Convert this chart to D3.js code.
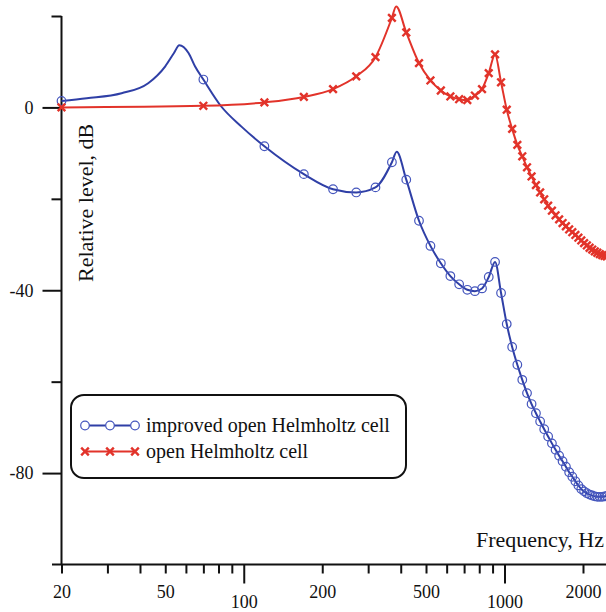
<!DOCTYPE html>
<html>
<head>
<meta charset="utf-8">
<script src="https://cdn.jsdelivr.net/npm/d3@7"></script>
<style>
  body { margin: 0; background: #fff; }
  svg text { font-family: "Liberation Serif", "Times New Roman", serif; fill: #111; }
</style>
</head>
<body>
<div class="canvas"></div>
<script>
// marker frequencies (Hz), shared by both series
const markFreq = [20, 70, 120, 170, 220, 270, 320, 370, 420, 470,
  520, 570, 620, 670, 720, 770, 820, 870, 920, 970,
  1020, 1070, 1120, 1170, 1220, 1270, 1320, 1370, 1420, 1470,
  1520, 1570, 1620, 1670, 1720, 1770, 1820, 1870, 1920, 1970,
  2020, 2070, 2120, 2170, 2220, 2270, 2320, 2370, 2420, 2470]

// improved open Helmholtz cell, dB
const blueLevel = [1.4, 6.1, -8.5, -14.6, -17.9, -18.6, -17.5, -12.0, -15.8, -24.8,
  -30.3, -34.1, -36.9, -38.7, -39.9, -40.2, -39.6, -37.1, -33.8, -40.6,
  -47.4, -52.4, -56.3, -59.6, -62.5, -64.9, -66.9, -68.7, -70.4, -72.0,
  -73.5, -74.9, -76.2, -77.4, -78.6, -79.8, -80.8, -81.8, -82.7, -83.5,
  -84.0, -84.4, -84.7, -84.9, -85.1, -85.2, -85.2, -85.2, -85.1, -85.0]
// extra curve points between markers (peaks)
const blueExtraFreq = [25, 34, 43, 50, 54, 56.6, 61.4, 65, 82, 98, 386]
const blueExtraLevel = [2.0, 3.1, 5.3, 9.0, 11.9, 13.6, 11.9, 9.0, 0.2, -4.2, -9.7]

// open Helmholtz cell, dB
const redLevel = [0, 0.35, 1.1, 2.3, 4.0, 6.8, 11.0, 19.6, 16.4, 9.7,
  5.9, 3.7, 2.4, 1.8, 1.6, 2.6, 4.0, 7.5, 11.6, 5.5,
  -0.5, -4.7, -8.2, -10.7, -13.1, -15.1, -17.0, -18.6, -20.1, -21.5,
  -22.6, -23.6, -24.5, -25.3, -26.0, -26.7, -27.3, -27.9, -28.5, -29.1,
  -29.7, -30.2, -30.7, -31.1, -31.5, -31.8, -32.1, -32.3, -32.5, -32.6]
const redExtraFreq = [384]
const redExtraLevel = [22.1]

const xTicks = [20, 30, 40, 50, 60, 70, 80, 90, 100, 200, 300, 400, 500, 600, 700, 800, 900, 1000, 2000]
const xLabels = [20, 50, 100, 200, 500, 1000, 2000]
const xMajor = [100, 1000]
const yTicks = [20, 0, -20, -40, -60, -80]
const yLabels = [0, -40, -80]

const blueLine = "#2f3fa6", blueMark = "#4556bd", redCol = "#e2332a"

const svg = d3.select(".canvas").append("svg").attr("width", 606).attr("height", 612)

const x = d3.scaleLog().domain([20, 1000]).range([61.5, 504.5])
const y = d3.scaleLinear().domain([-100, 20]).range([564.5, 16])

const merge = (fs, vs, efs, evs) => {
  const pts = fs.map((f, i) => ({f, v: vs[i], mark: true}))
  efs.forEach((f, i) => pts.push({f, v: evs[i], mark: false}))
  return pts.sort((a, b) => a.f - b.f)
}
const bluePts = merge(markFreq, blueLevel, blueExtraFreq, blueExtraLevel)
const redPts = merge(markFreq, redLevel, redExtraFreq, redExtraLevel)

// axes
const yAxis = svg.append("g").attr("transform", "translate(61.5,0)")
  .call(d3.axisLeft(y).tickValues(yTicks).tickSize(10).tickFormat(d => yLabels.includes(d) ? d : ""))
yAxis.select(".domain").remove()
yAxis.selectAll(".tick line").attr("x2", d => yLabels.includes(d) ? -19 : -10).attr("stroke", "#111").attr("stroke-width", 2)
yAxis.selectAll(".tick text").attr("x", -28).attr("font-size", 18).attr("font-family", "Liberation Serif")
yAxis.append("line").attr("y1", 16).attr("y2", 565).attr("stroke", "#111").attr("stroke-width", 2)

const xAxis = svg.append("g").attr("transform", "translate(0,564.5)")
  .call(d3.axisBottom(x).tickValues(xTicks).tickSize(9).tickFormat(d => xLabels.includes(d) ? d : ""))
xAxis.select(".domain").remove()
xAxis.selectAll(".tick line").attr("y2", d => xMajor.includes(d) ? 19 : 9).attr("stroke", "#111").attr("stroke-width", 2)
xAxis.selectAll(".tick text").attr("y", d => xMajor.includes(d) ? 31 : 21).attr("font-size", 18).attr("font-family", "Liberation Serif")
xAxis.append("line").attr("x1", 52).attr("x2", 606).attr("stroke", "#111").attr("stroke-width", 2)

svg.append("text").attr("transform", "translate(93,282) rotate(-90)")
  .attr("font-size", 22).text("Relative level, dB")
svg.append("text").attr("x", 604).attr("y", 547).attr("text-anchor", "end")
  .attr("font-size", 22).text("Frequency, Hz")

// curves
const line = d3.line().x(d => x(d.f)).y(d => y(d.v)).curve(d3.curveMonotoneX)
svg.append("path").datum(bluePts).attr("d", line).attr("fill", "none")
  .attr("stroke", blueLine).attr("stroke-width", 2)
svg.append("path").datum(redPts).attr("d", line).attr("fill", "none")
  .attr("stroke", redCol).attr("stroke-width", 2)

const cross = (g, cx, cy, s) => {
  g.append("path").attr("d", `M${cx - s},${cy - s}L${cx + s},${cy + s}M${cx - s},${cy + s}L${cx + s},${cy - s}`)
    .attr("stroke", redCol).attr("stroke-width", 2.4).attr("fill", "none")
}

svg.append("g").selectAll("circle").data(bluePts.filter(d => d.mark)).enter().append("circle")
  .attr("cx", d => x(d.f)).attr("cy", d => y(d.v)).attr("r", 4.3)
  .attr("fill", "none").attr("stroke", blueMark).attr("stroke-width", 1.2)

const redG = svg.append("g")
redPts.filter(d => d.mark).forEach(d => cross(redG, x(d.f), y(d.v), 3.8))

// legend
const lg = svg.append("g")
lg.append("rect").attr("x", 71).attr("y", 395).attr("width", 335).attr("height", 83).attr("rx", 13)
  .attr("fill", "#fff").attr("stroke", "#111").attr("stroke-width", 2)
const legendItems = [
  {name: "improved open Helmholtz cell", kind: "circle"},
  {name: "open Helmholtz cell", kind: "cross"}
]
legendItems.forEach((it, i) => {
  const ly = 425.5 + i * 26
  lg.append("line").attr("x1", 85).attr("x2", 135).attr("y1", ly).attr("y2", ly)
    .attr("stroke", it.kind === "circle" ? blueLine : redCol).attr("stroke-width", 2)
  ;[85, 110, 135].forEach(cx => {
    if (it.kind === "circle") {
      lg.append("circle").attr("cx", cx).attr("cy", ly).attr("r", 4.3)
        .attr("fill", "#fff").attr("stroke", blueMark).attr("stroke-width", 1.2)
    } else cross(lg, cx, ly, 3.8)
  })
  lg.append("text").attr("x", 146).attr("y", ly + 6.5).attr("font-size", 20).text(it.name)
})
</script>
</body>
</html>
